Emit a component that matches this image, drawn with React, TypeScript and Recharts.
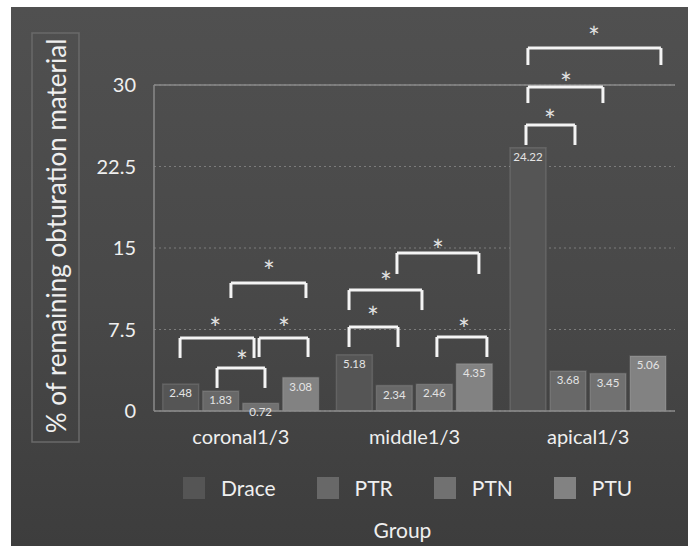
import React from "react";
import {
  BarChart, Bar, XAxis, YAxis, CartesianGrid, ReferenceLine, ReferenceDot, LabelList, Legend, Label
} from "recharts";

// categories and series
const groups = ["coronal1/3", "middle1/3", "apical1/3"];
const groupCenters = [0.5, 1.5, 2.5];
const seriesNames = ["Drace", "PTR", "PTN", "PTU"];
const draceValues = [2.48, 5.18, 24.22];
const ptrValues = [1.83, 2.34, 3.68];
const ptnValues = [0.72, 2.46, 3.45];
const ptuValues = [3.08, 4.35, 5.06];
const yTicks = [0, 7.5, 15, 22.5, 30];
const seriesColors = ["#555555", "#686868", "#717171", "#828282"];

// significance brackets (x in category units 0..3, y in % units)
const bracketLeft = [0.15, 0.605, 0.363, 0.443, 1.123, 1.123, 1.399, 1.629, 2.142, 2.153, 2.153];
const bracketRight = [0.576, 0.887, 0.639, 0.875, 1.405, 1.543, 1.871, 1.917, 2.424, 2.585, 2.919];
const bracketTop = [6.72, 6.72, 3.96, 11.78, 7.73, 11.13, 14.54, 6.81, 26.32, 29.81, 33.4];
const bracketFoot = [4.88, 4.97, 2.12, 10.4, 5.89, 9.29, 12.61, 4.97, 24.48, 28.34, 31.84];
const starX = [0.352, 0.748, 0.507, 0.662, 1.261, 1.336, 1.635, 1.785, 2.28, 2.372, 2.533];
const starY = [8.1, 8.1, 5.06, 13.34, 9.11, 12.33, 15.28, 8.0, 27.24, 30.64, 34.88];

const chalk = "#efefef";
const font = "Lato, 'Open Sans', sans-serif";

const data = groups.map((g, i) => ({
  group: g,
  slot: groupCenters[i],
  Drace: draceValues[i],
  PTR: ptrValues[i],
  PTN: ptnValues[i],
  PTU: ptuValues[i],
}));

const renderLegend = () => (
  <div style={{ display: "flex", alignItems: "center", gap: 41, fontFamily: font }}>
    {seriesNames.map((n, i) => (
      <div key={n} style={{ display: "flex", alignItems: "center" }}>
        <span style={{ width: 22, height: 22, background: seriesColors[i], marginRight: 16, display: "inline-block" }} />
        <span style={{ color: chalk, fontSize: 21 }}>{n}</span>
      </div>
    ))}
  </div>
);

const Star = (p: any) => (
  <text x={p.cx} y={p.cy + 16} textAnchor="middle" fontSize={28} fill="#e2e2e2" fontFamily={font}>*</text>
);

const YTitle = () => (
  <g>
    <rect x={32} y={33} width={47} height={409} fill="none" stroke="#6a6a6a" strokeWidth={1.5} />
    <text
      transform="translate(56,236) rotate(-90)"
      textAnchor="middle"
      dominantBaseline="central"
      fontSize={26}
      fill={chalk}
      fontFamily={font}
    >
      % of remaining obturation material
    </text>
  </g>
);

export default function App() {
  const bracketLines: React.ReactNode[] = [];
  bracketLeft.forEach((l, i) => {
    const r = bracketRight[i];
    const t = bracketTop[i];
    const f = bracketFoot[i];
    const common = { xAxisId: "pos", stroke: "#f4f4f4", strokeWidth: 3, ifOverflow: "visible" as const };
    bracketLines.push(<ReferenceLine key={`l${i}`} {...common} segment={[{ x: l, y: f }, { x: l, y: t }]} />);
    bracketLines.push(<ReferenceLine key={`t${i}`} {...common} segment={[{ x: l, y: t }, { x: r, y: t }]} />);
    bracketLines.push(<ReferenceLine key={`r${i}`} {...common} segment={[{ x: r, y: t }, { x: r, y: f }]} />);
  });

  return (
    <div style={{ position: "absolute", left: 0, top: 0, width: 688, height: 548, background: "#fff" }}>
      <div style={{
        position: "absolute", left: 11, top: 7, width: 677, height: 539,
        background: "linear-gradient(180deg, #505050 0%, #484848 55%, #3d3d3d 100%)"
      }} />
      <div style={{ position: "absolute", left: 0, top: 0 }}>
        <BarChart
          width={688}
          height={548}
          data={data}
          margin={{ top: 85, right: 13, left: 94, bottom: 0 }}
          barCategoryGap="5%"
          barGap={4}
        >
          <CartesianGrid vertical={false} stroke="#7c7c7c" strokeDasharray="2 3" />
          <XAxis
            dataKey="group"
            height={137}
            tickSize={6}
            tickLine={false}
            tickMargin={13}
            axisLine={{ stroke: "#8a8a8a", strokeWidth: 1.5 }}
            tick={{ fill: chalk, fontSize: 20, fontFamily: font }}
          >
            <Label value="Group" position="insideBottom" offset={10} dx={-12} fill={chalk} fontSize={21} fontFamily={font} />
          </XAxis>
          <XAxis xAxisId="pos" dataKey="slot" type="number" domain={[0, 3]} allowDataOverflow hide />
          <YAxis
            width={60}
            domain={[0, 30]}
            ticks={yTicks}
            tickSize={6}
            tickLine={false}
            tickMargin={12}
            axisLine={{ stroke: "#8a8a8a", strokeWidth: 1.5 }}
            tick={{ fill: chalk, fontSize: 20, fontFamily: font }}
            label={{ content: <YTitle /> }}
          />
          <YAxis yAxisId="r" orientation="right" width={0} tick={false} tickLine={false} axisLine={{ stroke: "#8a8a8a", strokeWidth: 1.5 }} />
          <ReferenceLine y={30} stroke="#8a8a8a" strokeWidth={1.5} />
          <Legend
            layout="vertical"
            align="center"
            verticalAlign="middle"
            content={renderLegend}
            wrapperStyle={{ top: 475, left: 183, width: 480 }}
          />
          {seriesNames.map((n, i) => (
            <Bar key={n} dataKey={n} fill={seriesColors[i]} stroke="rgba(255,255,255,0.12)" strokeWidth={1.5} isAnimationActive={false}>
              <LabelList dataKey={n} position="insideTop" offset={5} fill="#e4e4e4" fontSize={11.5} fontFamily={font} />
            </Bar>
          ))}
          {bracketLines}
          {starX.map((x, i) => (
            <ReferenceDot key={`s${i}`} xAxisId="pos" x={x} y={starY[i]} r={0} ifOverflow="visible" shape={Star} />
          ))}
        </BarChart>
      </div>
    </div>
  );
}
